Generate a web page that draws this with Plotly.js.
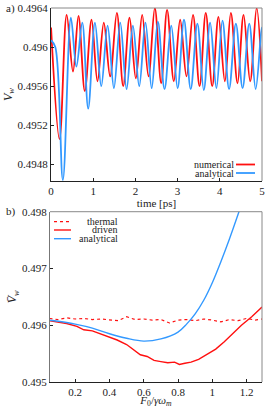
<!DOCTYPE html>
<html><head><meta charset="utf-8">
<script src="https://cdn.plot.ly/plotly-3.0.1.min.js"></script>
<style>html,body{margin:0;padding:0;background:#fff}#c{width:280px;height:408px}</style>
</head><body><div id="c"></div>
<script>
// Panel a) time traces (ps, V_w)
const numT = [0,0.2,0.37,0.52,0.65,0.80,0.96,1.10,1.25,1.40,1.56,1.71,1.86,2.01,2.16,2.31,2.46,2.61,2.75,2.91,3.06,3.21,3.365,3.52,3.667,3.82,3.968,4.12,4.262,4.42,4.563,4.72,4.873,5.0];
const numV = [0.49620,0.49506,0.49633,0.49575,0.49632,0.49555,0.49628,0.49565,0.49625,0.49570,0.49635,0.49560,0.49630,0.49568,0.49633,0.49570,0.49640,0.49563,0.49638,0.49565,0.49628,0.49570,0.49633,0.49560,0.49635,0.49560,0.49631,0.49565,0.49635,0.49563,0.49633,0.49565,0.49640,0.49565];
const anaT = [0,0.10,0.28,0.47,0.60,0.74,0.88,1.04,1.19,1.34,1.49,1.64,1.79,1.94,2.09,2.238,2.385,2.532,2.69,2.849,3.0,3.151,3.31,3.468,3.62,3.77,3.92,4.063,4.22,4.381,4.54,4.698,4.85,4.992,5.0];
const anaV = [0.49607,0.49600,0.49464,0.49630,0.49580,0.49625,0.49537,0.49625,0.49560,0.49622,0.49558,0.49625,0.49557,0.49622,0.49560,0.49625,0.49558,0.49626,0.49557,0.49622,0.49558,0.49628,0.49557,0.49624,0.49556,0.49625,0.49558,0.49627,0.49557,0.49624,0.49558,0.49624,0.49557,0.49620,0.49619];
// Panel b) averaged V_w vs F0/(gamma omega_m)
const thF = [0.05,0.10,0.15,0.20,0.25,0.30,0.35,0.40,0.45,0.50,0.55,0.60,0.65,0.70,0.75,0.80,0.85,0.90,0.95,1.00,1.05,1.10,1.15,1.20,1.25,1.29];
const thV = [0.49612,0.49610,0.49613,0.49611,0.49612,0.49610,0.49611,0.49609,0.49608,0.49615,0.49610,0.49611,0.49609,0.49610,0.49604,0.49609,0.49610,0.49608,0.49611,0.49609,0.49606,0.49610,0.49608,0.49612,0.49609,0.49611];
const drF = [0.05,0.10,0.15,0.21,0.25,0.30,0.347,0.40,0.445,0.50,0.58,0.62,0.66,0.70,0.74,0.78,0.808,0.84,0.876,0.92,0.975,1.02,1.07,1.12,1.17,1.23,1.29];
const drV = [0.49608,0.49606,0.49603,0.49598,0.49592,0.49590,0.49585,0.49580,0.49574,0.49566,0.49548,0.49545,0.49538,0.49536,0.49534,0.49535,0.49531,0.49533,0.49535,0.49540,0.49550,0.49558,0.49571,0.49585,0.49600,0.49615,0.49632];
const anF = [0.05,0.10,0.20,0.30,0.40,0.50,0.60,0.70,0.80,0.85,0.90,0.95,1.00,1.05,1.10,1.15,1.20];
const anV = [0.49609,0.49607,0.49602,0.49595,0.49585,0.49577,0.49572,0.49576,0.49588,0.49602,0.49620,0.49644,0.49675,0.49712,0.49752,0.49795,0.49840];

const RED = '#ff1010', BLUE = '#3399ff';
const FONT = '"Liberation Serif", "DejaVu Serif", serif';
const traces = [
  {x:numT, y:numV, xaxis:'x', yaxis:'y', mode:'lines', line:{color:RED, width:1.8, shape:'spline', smoothing:1}},
  {x:anaT, y:anaV, xaxis:'x', yaxis:'y', mode:'lines', line:{color:BLUE, width:1.8, shape:'spline', smoothing:1}},
  {x:thF, y:thV, xaxis:'x2', yaxis:'y2', mode:'lines', line:{color:RED, width:1.2, dash:'dot'}},
  {x:drF, y:drV, xaxis:'x2', yaxis:'y2', mode:'lines', line:{color:RED, width:1.4}},
  {x:anF, y:anV, xaxis:'x2', yaxis:'y2', mode:'lines', line:{color:BLUE, width:1.4, shape:'spline'}}
];
const tf = {family:FONT, size:11, color:'#222'};
const lf = {family:FONT, size:10, color:'#222'};
const ax = (extra) => Object.assign({showgrid:false, zeroline:false, showline:true, linecolor:'#222', linewidth:1,
  ticks:'inside', ticklen:3, tickcolor:'#222', tickfont:tf}, extra);
const layout = {
  width:280, height:408, margin:{l:50, r:18, t:8, b:26},
  paper_bgcolor:'#fff', plot_bgcolor:'#fff', showlegend:false,
  font:{family:FONT, size:11, color:'#222'},
  xaxis: ax({domain:[0.005,1], range:[0,5], tickvals:[0,1,2,3,4,5], anchor:'y',
    title:{text:'time [ps]', font:{family:FONT,size:11}, standoff:0}}),
  yaxis: ax({domain:[0.5374,1], range:[0.49463,0.4964], tickvals:[0.4948,0.4952,0.4956,0.496,0.4964],
    ticktext:['0.4948','0.4952','0.4956','0.496','0.4964'], anchor:'x',
    title:{text:'<i>V<sub>w</sub></i>', font:{family:FONT,size:12}, standoff:2}}),
  xaxis2: ax({domain:[0,1], range:[0.053,1.29], tickvals:[0.2,0.4,0.6,0.8,1,1.2], ticktext:['0.2','0.4','0.6','0.8','1','1.2'], anchor:'y2',
    title:{text:'<i>F</i><sub>0</sub>/<i>γω</i><sub><i>m</i></sub>', font:{family:FONT,size:11}, standoff:1}}),
  yaxis2: ax({domain:[0,0.4553], range:[0.495,0.498], tickvals:[0.495,0.496,0.497,0.498], ticktext:['0.495','0.496','0.497','0.498'], anchor:'x2', linecolor:'#777',
    title:{text:'<i>V\u0304<sub>w</sub></i>', font:{family:FONT,size:12}, standoff:2}}),
  shapes:[
    {type:'line', xref:'x domain', yref:'y domain', x0:0, x1:1, y0:1, y1:1, line:{color:'#888', width:1}},
    {type:'line', xref:'x domain', yref:'y domain', x0:1, x1:1, y0:0, y1:1, line:{color:'#888', width:1}},
    {type:'line', xref:'x2 domain', yref:'y2 domain', x0:0, x1:1, y0:1, y1:1, line:{color:'#888', width:1}},
    {type:'line', xref:'x2 domain', yref:'y2 domain', x0:1, x1:1, y0:0, y1:1, line:{color:'#888', width:1}},
    {type:'line', xref:'paper', yref:'paper', x0:(236-50)/212, x1:(255-50)/212, y0:(382-164.5)/374, y1:(382-164.5)/374, line:{color:RED, width:1.8}},
    {type:'line', xref:'paper', yref:'paper', x0:(236-50)/212, x1:(255-50)/212, y0:(382-173)/374, y1:(382-173)/374, line:{color:BLUE, width:1.8}},
    {type:'line', xref:'paper', yref:'paper', x0:(54-50)/212, x1:(71-50)/212, y0:(382-221.7)/374, y1:(382-221.7)/374, line:{color:RED, width:1.2, dash:'dot'}},
    {type:'line', xref:'paper', yref:'paper', x0:(54-50)/212, x1:(71-50)/212, y0:(382-230)/374, y1:(382-230)/374, line:{color:RED, width:1.4}},
    {type:'line', xref:'paper', yref:'paper', x0:(54-50)/212, x1:(71-50)/212, y0:(382-238.7)/374, y1:(382-238.7)/374, line:{color:BLUE, width:1.4}}
  ],
  annotations:[
    {text:'a)', xref:'paper', yref:'paper', x:(4-50)/212, y:(382-8)/374, xanchor:'left', yanchor:'middle', showarrow:false, font:tf},
    {text:'b)', xref:'paper', yref:'paper', x:(4-50)/212, y:(382-211.7)/374, xanchor:'left', yanchor:'middle', showarrow:false, font:tf},
    {text:'numerical', xref:'paper', yref:'paper', x:(235-50)/212, y:(382-164.5)/374, xanchor:'right', yanchor:'middle', showarrow:false, font:lf, borderpad:0},
    {text:'analytical', xref:'paper', yref:'paper', x:(235-50)/212, y:(382-173)/374, xanchor:'right', yanchor:'middle', showarrow:false, font:lf, borderpad:0},
    {text:'thermal', xref:'paper', yref:'paper', x:(119-50)/212, y:(382-221.7)/374, xanchor:'right', yanchor:'middle', showarrow:false, font:lf, borderpad:0},
    {text:'driven', xref:'paper', yref:'paper', x:(119-50)/212, y:(382-230)/374, xanchor:'right', yanchor:'middle', showarrow:false, font:lf, borderpad:0},
    {text:'analytical', xref:'paper', yref:'paper', x:(119-50)/212, y:(382-238.7)/374, xanchor:'right', yanchor:'middle', showarrow:false, font:lf, borderpad:0}
  ]
};
Plotly.newPlot('c', traces, layout, {staticPlot:true, displayModeBar:false});
</script></body></html>
